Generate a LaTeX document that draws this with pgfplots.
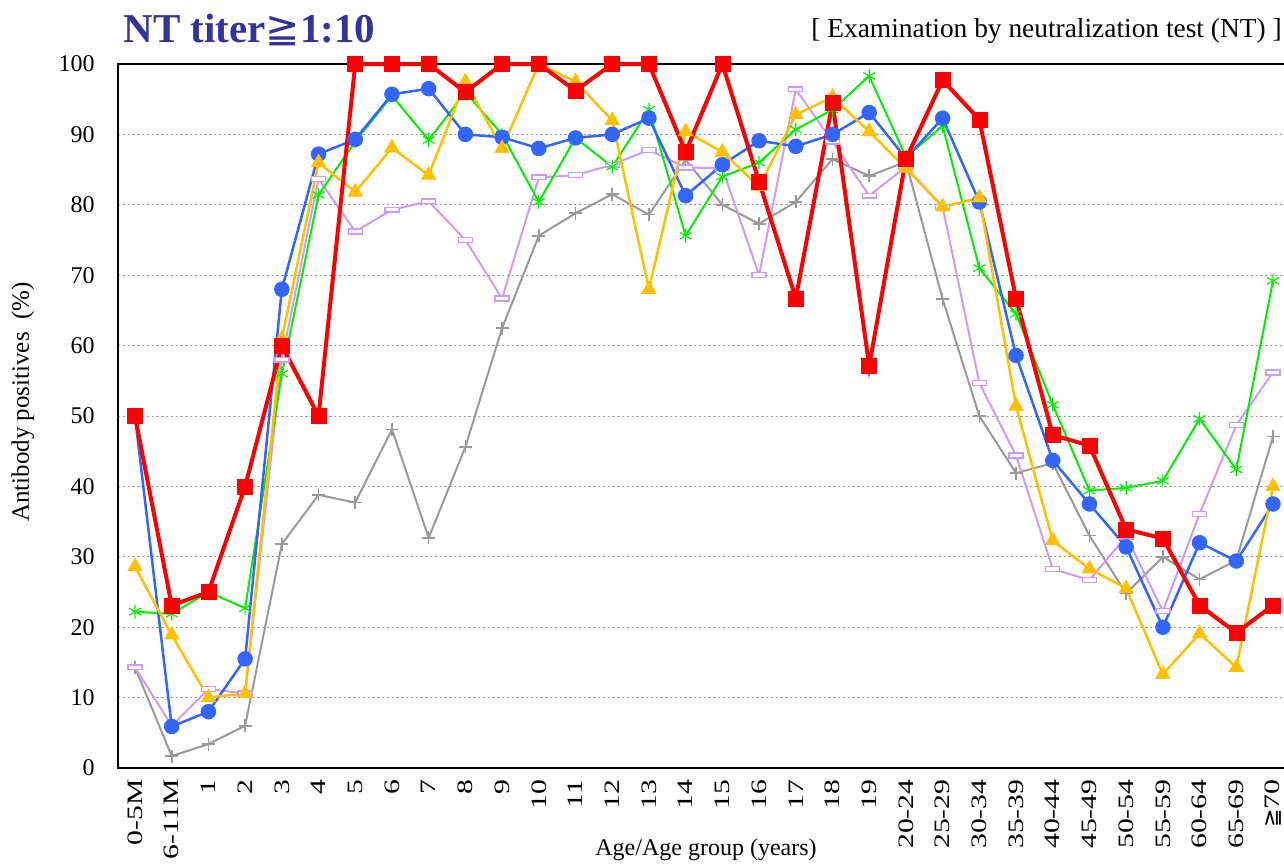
\documentclass[border=0pt]{standalone}
\usepackage{fontspec}
\setmainfont{Liberation Serif}
\newfontfamily\symfont{DejaVu Sans}
\newfontfamily\tickfont[FakeStretch=1.35]{Liberation Serif}
\usepackage{pgfplots}
\pgfplotsset{compat=1.18}
\usepackage{pgfplotstable}
\definecolor{cred}{HTML}{FF0000}
\definecolor{cblue}{HTML}{3366FF}
\definecolor{cgreen}{HTML}{00F000}
\definecolor{cyellow}{HTML}{FFC000}
\definecolor{clav}{HTML}{CC99FF}
\definecolor{cgray}{HTML}{999999}
\definecolor{ctitle}{HTML}{333399}

\pgfplotstableread{
x  red   blue  green yellow lav   gray
0  50    50    22.2  28.6   14.3  14.3
1  23.1  5.9   21.9  18.9   6.0   1.7
2  25    8.0   25.0  10.0   11.2  3.4
3  40    15.5  22.7  10.6   10.6  6.0
4  60    68.0  56.0  61.0   58.0  31.8
5  50    87.2  81.4  86.0   83.7  38.8
6  100   89.3  89.0  81.8   76.2  37.7
7  100   95.7  95.5  88.1   79.3  48.1
8  100   96.5  89.2  84.2   80.5  32.7
9  96    90.0  96.0  97.5   75.0  45.6
10 100   89.6  90.0  88.0   66.7  62.5
11 100   88.0  80.4  100    83.9  75.6
12 96.2  89.5  89.5  97.5   84.2  78.8
13 100   90.0  85.4  92.0   85.7  81.5
14 100   92.3  93.5  68.0   87.8  78.6
15 87.5  81.3  75.6  90.4   85.3  86.4
16 100   85.7  84.0  87.5   85.2  80.0
17 83.3  89.1  86.0  82.6   70.0  77.3
18 66.7  88.3  90.7  92.8   96.4  80.4
19 94.5  90.0  93.5  95.3   89.0  86.5
20 57.1  93.1  98.3  90.4   81.3  84.1
21 86.5  86.6  86.8  85.2   85.4  86.1
22 97.7  92.3  91.2  79.7   79.7  66.6
23 92.1  80.4  71.0  81.0   54.7  50.0
24 66.7  58.6  64.5  51.4   44.4  41.9
25 47.3  43.7  51.6  32.3   28.3  43.3
26 45.8  37.5  39.4  28.3   26.7  33.0
27 33.9  31.4  39.8  25.5   32.9  24.8
28 32.6  20.0  40.8  13.3   22.3  30.0
29 23.1  32.0  49.6  19.1   36.1  26.8
30 19.2  29.4  42.4  14.3   48.7  29.5
31 23.1  37.5  69.2  40.0   56.2  47.1
}\datatable

\begin{document}
\begin{tikzpicture}
\useasboundingbox (0,0) rectangle (642pt,432pt);
\begin{axis}[
  at={(59pt,48pt)}, anchor=south west,
  scale only axis, width=586pt, height=352pt,
  xmin=-0.463, xmax=31.463, ymin=0, ymax=100,
  clip=false,
  ytick={0,10,...,100},
  xtick={0,...,31},
  xticklabels={0-5M,6-11M,1,2,3,4,5,6,7,8,9,10,11,12,13,14,15,16,17,18,19,20-24,25-29,30-34,35-39,40-44,45-49,50-54,55-59,60-64,65-69,{{\symfont ≧}70}},
  ymajorgrids,
  major grid style={gray!75, dash pattern=on 1.2pt off 1.2pt, line width=0.5pt},
  axis line style={line width=1pt},
  major tick length=0pt,
  /pgf/number format/assume math mode=true,
  yticklabel style={font=\fontsize{12}{14}\selectfont, inner sep=0pt, xshift=-11.5pt},
  xticklabel style={font=\tickfont\fontsize{11}{13}\selectfont, rotate=90, anchor=east, inner sep=0pt},
  xticklabel shift=5.5pt,
]
\addplot[color=cgray, line width=1pt, mark=+, mark size=3.25pt, mark options={line width=0.8pt}] table[x=x,y=gray]{\datatable};
\addplot[color=clav, line width=1pt, mark=square*, mark size=3.5pt, mark options={fill=white, draw=clav, line width=0.7pt, yscale=0.35}] table[x=x,y=lav]{\datatable};
\addplot[color=cgreen, line width=1pt, mark=asterisk, mark size=3.4pt, mark options={line width=0.6pt}] table[x=x,y=green]{\datatable};
\addplot[color=cblue, line width=1.25pt, mark=*, mark size=3.25pt, mark options={fill=cblue, draw=cblue}] table[x=x,y=blue]{\datatable};
\addplot[color=cyellow, line width=1.25pt, mark=triangle*, mark size=4.2pt, mark options={fill=cyellow, draw=cyellow, line width=0.3pt}] table[x=x,y=yellow]{\datatable};
\addplot[color=cred, line width=2pt, mark=square*, mark size=3.75pt, mark options={fill=cred, draw=cred, line width=0.3pt}] table[x=x,y=red]{\datatable};
\end{axis}
\node[anchor=base west, text=ctitle, font=\fontsize{20.5}{24}\selectfont\bfseries, inner sep=0pt] at (61.5pt,410.5pt) {NT titer{\symfont\mdseries ≧}1:10};
\node[anchor=base east, font=\fontsize{13.7}{16}\selectfont, inner sep=0pt] at (641pt,413pt) {[ Examination by neutralization test (NT) ]};
\node[rotate=90, font=\fontsize{12.5}{15}\selectfont, inner sep=0pt] at (11.5pt,231pt) {Antibody positives\ \ (\%)};
\node[anchor=base, font=\fontsize{12}{14}\selectfont, inner sep=0pt] at (353pt,4.5pt) {Age/Age group (years)};
\end{tikzpicture}
\end{document}
